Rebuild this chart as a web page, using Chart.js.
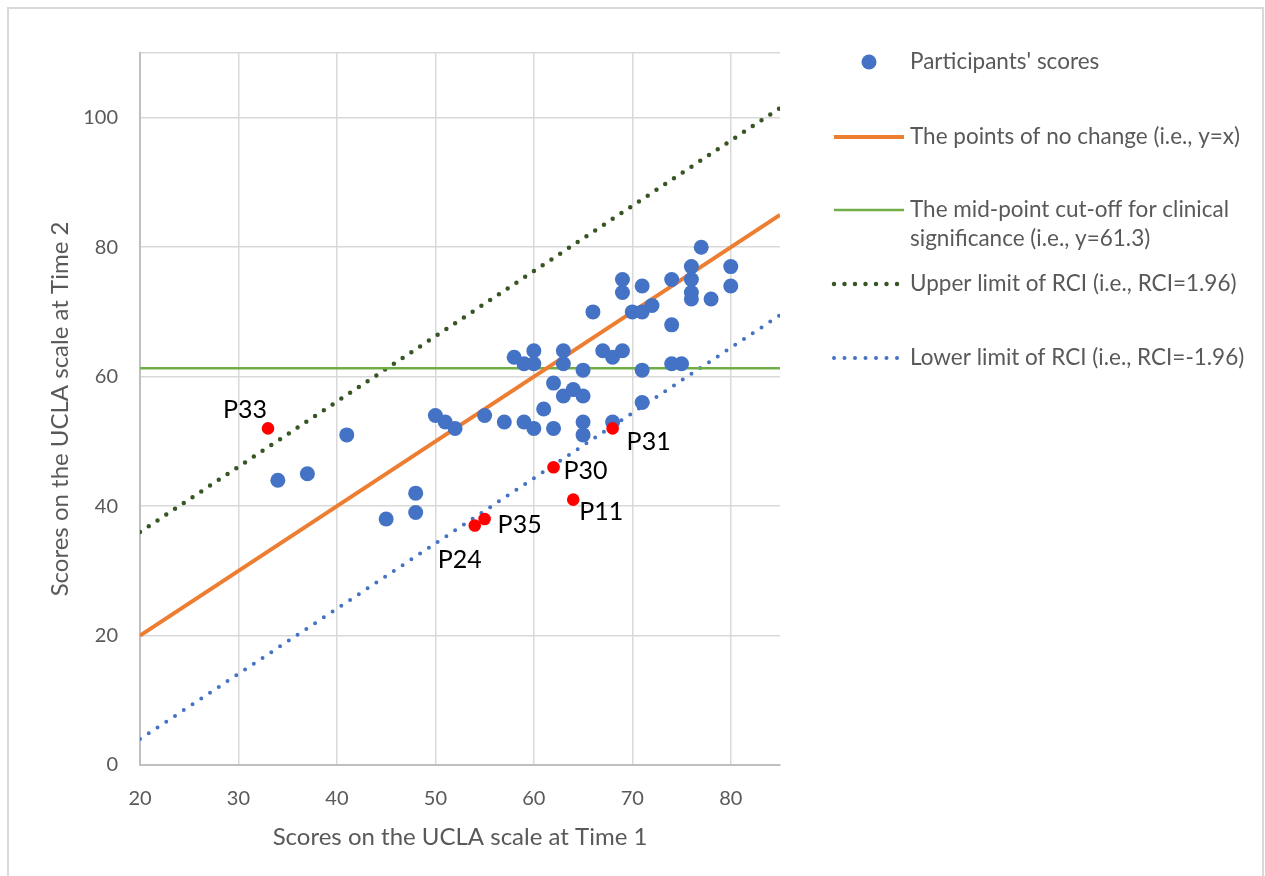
<!DOCTYPE html>
<html>
<head>
<meta charset="utf-8">
<script src="https://cdn.jsdelivr.net/npm/chart.js@4.4.0/dist/chart.umd.min.js"></script>
<style>
  html, body { margin: 0; padding: 0; background: #fff; overflow: hidden; }
  #frame { position: absolute; left: 7px; top: 7px; width: 1257px; height: 880px; border: 2px solid #d9d9d9; box-sizing: border-box; }
  #wrap { position: absolute; left: 0; top: 0; width: 1265px; height: 876px; }
</style>
</head>
<body>
<div id="frame"></div>
<div id="wrap"><canvas id="chart"></canvas></div>
<script>
// participants' scores (Time 1 -> Time 2)
const time1 = [34, 37, 41, 45, 48, 48, 50, 51, 52, 55, 57, 59, 60, 62, 61, 58, 59, 60, 60, 63, 63, 65, 62, 63, 64, 65, 65, 65, 67, 68, 69, 71, 74, 75, 71, 66, 70, 71, 72, 74, 69, 69, 71, 74, 76, 76, 76, 76, 77, 78, 80, 80, 68];
const time2 = [44, 45, 51, 38, 42, 39, 54, 53, 52, 54, 53, 53, 52, 52, 55, 63, 62, 64, 62, 64, 62, 61, 59, 57, 58, 57, 53, 51, 64, 63, 64, 61, 62, 62, 56, 70, 70, 70, 71, 68, 75, 73, 74, 75, 77, 75, 73, 72, 80, 72, 77, 74, 53];

// highlighted participants
const flagged = ['P33', 'P24', 'P35', 'P30', 'P11', 'P31'];
const flaggedT1 = [33, 54, 55, 62, 64, 68];
const flaggedT2 = [52, 37, 38, 46, 41, 52];

// reference lines
const lineX = [20, 85];
const noChangeY = [20, 85];
const cutoffY = [61.3, 61.3];
const upperY = [36, 101.5];
const lowerY = [4, 69.5];

const seriesNames = [
  "Participants' scores",
  'The points of no change (i.e., y=x)',
  ['The mid-point cut-off for clinical', 'significance (i.e., y=61.3)'],
  'Upper limit of RCI (i.e., RCI=1.96)',
  'Lower limit of RCI (i.e., RCI=-1.96)'
];

const xTicks = [20, 30, 40, 50, 60, 70, 80];
const yTicks = [0, 20, 40, 60, 80, 100];

const pts = (xs, ys) => xs.map((x, i) => ({ x: x, y: ys[i] }));

const FONT = 'Lato, "Open Sans", sans-serif';
const GREY = '#595959';

// label offsets for the flagged points (px from the point)
const labelShift = { P33: [-45, -18], P24: [-37, 34], P35: [13, 6], P30: [10, 4], P11: [6, 12], P31: [14, 14] };

const pointLabels = {
  id: 'pointLabels',
  afterDatasetsDraw(chart) {
    const ctx = chart.ctx;
    const meta = chart.getDatasetMeta(1);
    ctx.save();
    ctx.font = '25px ' + FONT;
    ctx.fillStyle = '#000';
    ctx.textBaseline = 'middle';
    ctx.textAlign = 'left';
    meta.data.forEach((el, i) => {
      const s = labelShift[flagged[i]];
      ctx.fillText(flagged[i], el.x + s[0], el.y + s[1]);
    });
    ctx.restore();
  }
};

const sideLegend = {
  id: 'sideLegend',
  afterDraw(chart) {
    const ctx = chart.ctx;
    const rows = [62, 137, 210, 284, 358];
    const order = [0, 2, 3, 4, 5];
    ctx.save();
    ctx.font = '22.5px ' + FONT;
    ctx.textBaseline = 'middle';
    ctx.textAlign = 'left';
    order.forEach((di, k) => {
      const ds = chart.data.datasets[di];
      const y = rows[k];
      if (di === 0) {
        ctx.beginPath();
        ctx.fillStyle = ds.backgroundColor;
        ctx.arc(869, y, 7.5, 0, Math.PI * 2);
        ctx.fill();
      } else {
        ctx.beginPath();
        ctx.strokeStyle = ds.borderColor;
        ctx.lineWidth = ds.borderWidth;
        ctx.lineCap = ds.borderDash ? 'round' : 'butt';
        ctx.setLineDash(ds.borderDash || []);
        ctx.moveTo(834, y);
        ctx.lineTo(904, y);
        ctx.stroke();
        ctx.setLineDash([]);
      }
      ctx.fillStyle = GREY;
      const txt = seriesNames[k];
      if (Array.isArray(txt)) {
        txt.forEach((t, j) => ctx.fillText(t, 910, y + j * 29));
      } else {
        ctx.fillText(txt, 910, y);
      }
    });
    ctx.restore();
  }
};

new Chart(document.getElementById('chart'), {
  type: 'scatter',
  data: {
    datasets: [
      { label: seriesNames[0], data: pts(time1, time2), backgroundColor: '#4472C4', borderWidth: 0, pointRadius: 7.5, order: 1 },
      { label: 'Flagged', data: pts(flaggedT1, flaggedT2), backgroundColor: '#FF0000', borderWidth: 0, pointRadius: 6.3, order: 0 },
      { type: 'line', label: seriesNames[1], data: pts(lineX, noChangeY), borderColor: '#ED7D31', borderWidth: 4, pointRadius: 0, order: 3 },
      { type: 'line', label: 'cut-off', data: pts(lineX, cutoffY), borderColor: '#70AD47', borderWidth: 2.5, pointRadius: 0, order: 4 },
      { type: 'line', label: seriesNames[3], data: pts(lineX, upperY), borderColor: '#375623', borderWidth: 4.5, borderDash: [0, 10.5], borderCapStyle: 'round', pointRadius: 0, order: 5 },
      { type: 'line', label: seriesNames[4], data: pts(lineX, lowerY), borderColor: '#4472C4', borderWidth: 4, borderDash: [0, 10.5], borderCapStyle: 'round', pointRadius: 0, order: 6 }
    ]
  },
  options: {
    responsive: true,
    maintainAspectRatio: false,
    animation: false,
    layout: { padding: { left: 0, top: 53, right: 485, bottom: 0 } },
    plugins: { legend: { display: false }, tooltip: { enabled: false } },
    scales: {
      x: {
        type: 'linear',
        min: 20,
        max: 85,
        afterFit: (s) => { s.height = 111; },
        afterBuildTicks: (s) => { s.ticks = xTicks.map(v => ({ value: v })); },
        ticks: { font: { family: FONT, size: 20 }, color: GREY, padding: 22 },
        grid: { color: '#d9d9d9', lineWidth: 1.5, drawTicks: false },
        border: { color: '#bfbfbf', width: 2 },
        title: { display: true, text: 'Scores on the UCLA scale at Time 1', font: { family: FONT, size: 24 }, color: GREY, padding: { top: 0, bottom: 24 } }
      },
      y: {
        type: 'linear',
        min: 0,
        max: 110,
        afterFit: (s) => { s.width = 140; },
        afterBuildTicks: (s) => { s.ticks = yTicks.concat([110]).map(v => ({ value: v })); },
        ticks: { font: { family: FONT, size: 20 }, color: GREY, padding: 22, callback: (v) => (v === 110 ? '' : v) },
        grid: { color: '#d9d9d9', lineWidth: 1.5, drawTicks: false },
        border: { color: '#bfbfbf', width: 2 },
        title: { display: true, text: 'Scores on the UCLA scale at Time 2', font: { family: FONT, size: 24 }, color: GREY, padding: { top: 46, bottom: 0 } }
      }
    }
  },
  plugins: [pointLabels, sideLegend]
});
</script>
</body>
</html>
